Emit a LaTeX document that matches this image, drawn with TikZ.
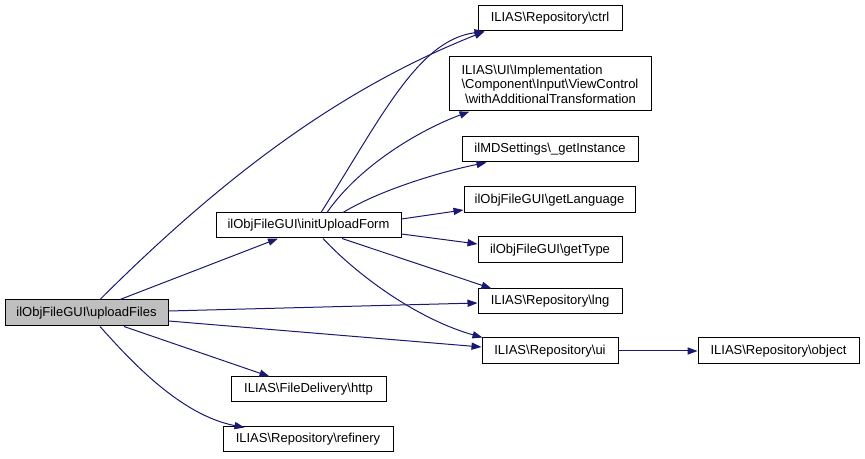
\documentclass[tikz,border=0pt]{standalone}
\usepackage{fontspec}
\setmainfont{Liberation Sans}
\usetikzlibrary{arrows.meta,calc}
\definecolor{edgeblue}{HTML}{191970}
\definecolor{rootgray}{HTML}{BFBFBF}
\tikzset{
  fn/.style={draw=black, line width=0.75pt, fill=white, inner sep=0pt, minimum height=25*0.75pt, align=center,
    font=\fontsize{9.75}{10.9}\selectfont},
  root/.style={fn, fill=rootgray},
  call/.style={draw=edgeblue, line width=0.75pt, -{Triangle[length=7.5pt,width=5.4pt]}},
  wd/.style={minimum width=#1*0.75pt},
  ht/.style={minimum height=#1*0.75pt},
}
\begin{document}
\begin{tikzpicture}[x=0.75pt,y=-0.75pt]
\useasboundingbox (0,0) rectangle (865,459);
\node[root, wd=163, ht=26] (up) at (86.5,313) {ilObjFileGUI\textbackslash uploadFiles};
\node[fn, wd=185] (init) at (308.5,225.5) {ilObjFileGUI\textbackslash initUploadForm};
\node[fn, wd=155] (http) at (308.5,389.5) {ILIAS\textbackslash FileDelivery\textbackslash http};
\node[fn, wd=170] (ref) at (308,439.5) {ILIAS\textbackslash Repository\textbackslash refinery};
\node[fn, wd=144] (ctrl) at (550,18.5) {ILIAS\textbackslash Repository\textbackslash ctrl};
\node[fn, wd=202, ht=54, align=left] (wat) at (550,84) {ILIAS\textbackslash UI\textbackslash Implementation\\\textbackslash Component\textbackslash Input\textbackslash ViewControl\\\ \textbackslash withAdditionalTransformation};
\node[fn, wd=176] (inst) at (550,149.5) {ilMDSettings\textbackslash \_getInstance};
\node[fn, wd=171, ht=26] (lang) at (549.5,200) {ilObjFileGUI\textbackslash getLanguage};
\node[fn, wd=144, ht=26] (type) at (550,250) {ilObjFileGUI\textbackslash getType};
\node[fn, wd=144] (lng) at (550,301.5) {ILIAS\textbackslash Repository\textbackslash lng};
\node[fn, wd=136, ht=26] (ui) at (550,351) {ILIAS\textbackslash Repository\textbackslash ui};
\node[fn, wd=161, ht=26] (obj) at (778.5,351) {ILIAS\textbackslash Repository\textbackslash object};

% uploadFiles edges
\draw[call] ($(up.north)+(33.5,0)$) -- ($(init.south)+(-30.5,0)$);
\draw[call] ($(up.north)+(13.5,0)$) .. controls (230,170) and (345,87) .. ($(ctrl.south west)+(7,0)$);
\draw[call] ($(up.east)+(0,-2)$) -- ($(lng.west)+(0,1.5)$);
\draw[call] ($(up.east)+(0,8)$) -- ($(ui.west)+(0,-4)$);
\draw[call] ($(up.south)+(37.5,0)$) -- ($(http.north west)+(39,0)$);
\draw[call] ($(up.south)+(13.5,0)$) .. controls (130,360) and (180,415) .. ($(ref.north west)+(22,1)$);
% initUploadForm edges
\draw[call] ($(init.north)+(12.5,0)$) .. controls (381,118) and (418,40) .. ($(ctrl.south west)+(7,0)$);
\draw[call] ($(init.north)+(18.5,0)$) .. controls (360,165) and (420,130) .. ($(wat.south west)+(21,0)$);
\draw[call] ($(init.north)+(34.5,0)$) .. controls (380,190) and (440,172) .. ($(inst.south west)+(25,0)$);
\draw[call] ($(init.east)+(0,-6.5)$) -- ($(lang.west)+(0,10)$);
\draw[call] ($(init.east)+(0,8.5)$) -- ($(type.west)+(0,-6)$);
\draw[call] ($(init.south)+(33.5,0)$) -- ($(lng.north west)+(14,0)$);
\draw[call] ($(init.south)+(14.5,0)$) .. controls (360,278) and (420,320) .. ($(ui.north west)+(1,0)$);
% ui edge
\draw[call] (ui.east) -- (obj.west);
\end{tikzpicture}
\end{document}
